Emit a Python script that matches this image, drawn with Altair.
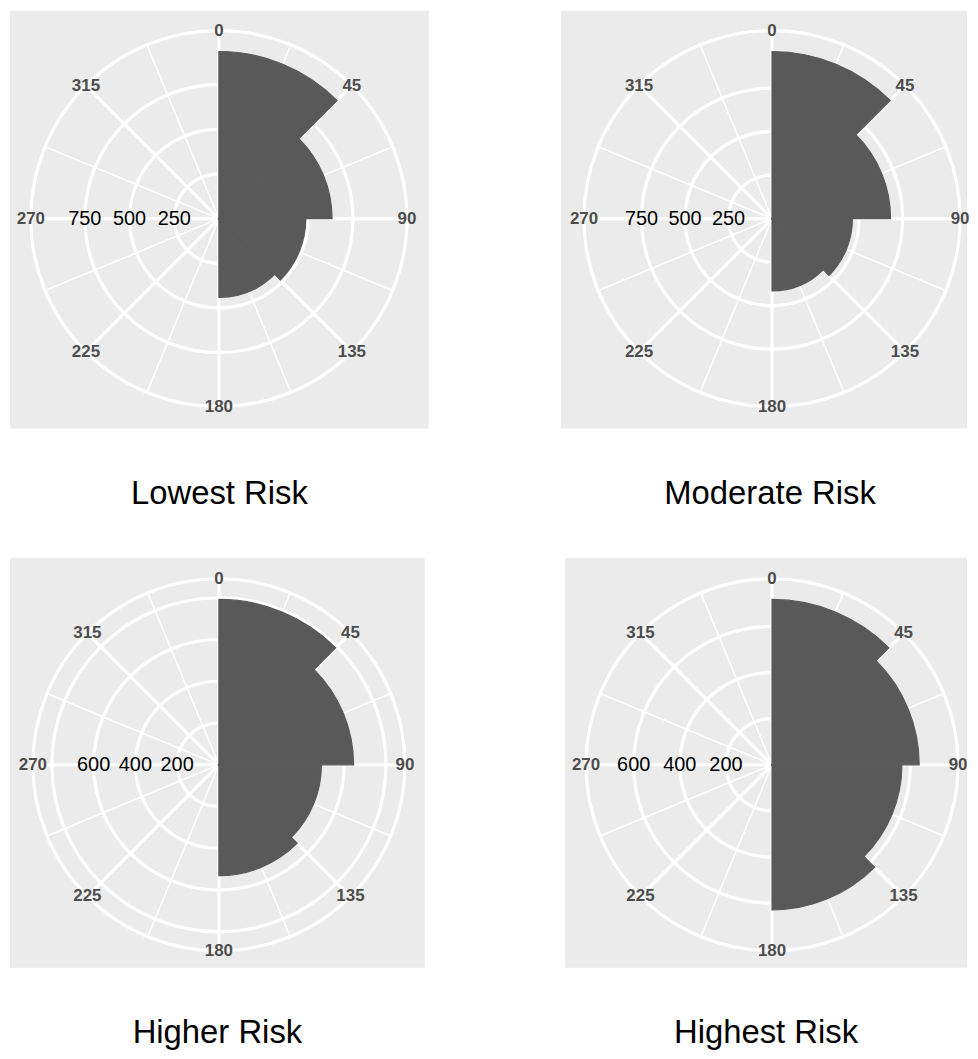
import math
import altair as alt
import pandas as pd

# ---- data ----
titles = ["Lowest Risk", "Moderate Risk", "Higher Risk", "Highest Risk"]
bin_start = [0, 45, 90, 135]
bin_end = [45, 90, 135, 180]
lowest_vals = [935, 633, 486, 441]
moderate_vals = [960, 681, 462, 415]
higher_vals = [792, 645, 491, 531]
highest_vals = [717, 638, 563, 629]

rings_lowest = [250, 500, 750]
rings_moderate = [250, 500, 750]
rings_higher = [200, 400, 600, 800]
rings_highest = [200, 400, 600]

rlabels_lowest = [250, 500, 750]
rlabels_moderate = [250, 500, 750]
rlabels_higher = [200, 400, 600]
rlabels_highest = [200, 400, 600]

theta_major = [0, 45, 90, 135, 180, 225, 270, 315]
theta_minor = [22.5, 67.5, 112.5, 157.5, 202.5, 247.5, 292.5, 337.5]
theta_labels = ["0", "45", "90", "135", "180", "225", "270", "315"]

BG = "#EBEBEB"
BAR = "#595959"
FONT = "Liberation Sans"


def panel(title, values, rings, rlabels, w, h, cx, cy, R, title_dx, title_offset):
    D = max(values) * 0.45 / 0.4  # outer circle sits at 0.45 when data max is at 0.4
    th = alt.Scale(type="linear", domain=[0, 360], range=[0, 2 * math.pi])
    rs = alt.Scale(type="linear", domain=[0, D], range=[0, R], zero=True, nice=False)
    center = dict(x=alt.value(cx), y=alt.value(cy))

    major_df = pd.DataFrame({"a": theta_major, "r": [D] * len(theta_major), "r0": [0] * len(theta_major)})
    minor_df = pd.DataFrame({"a": theta_minor, "r": [D] * len(theta_minor), "r0": [0] * len(theta_minor)})
    ring_vals = list(rings) + [D]
    ring_df = pd.DataFrame({"r": ring_vals, "t0": [0] * len(ring_vals), "t1": [360] * len(ring_vals)})
    bar_df = pd.DataFrame({"start": bin_start, "end": bin_end, "value": values})
    tl_df = pd.DataFrame({"a": theta_major, "r": [D] * len(theta_major), "lab": theta_labels})
    rl_df = pd.DataFrame({"a": [270] * len(rlabels), "r": rlabels, "lab": [str(v) for v in rlabels]})

    def spokes(df, sw):
        return alt.Chart(df).mark_arc(stroke="white", strokeWidth=sw, fillOpacity=0).encode(
            theta=alt.Theta("a:Q", scale=th, stack=False),
            theta2=alt.Theta2("a"),
            radius=alt.Radius("r:Q", scale=rs),
            radius2=alt.Radius2("r0"),
            **center,
        )

    minor = spokes(minor_df, 1.6)
    major = spokes(major_df, 3.2)
    ring = alt.Chart(ring_df).mark_arc(stroke="white", strokeWidth=3.2, fillOpacity=0).encode(
        theta=alt.Theta("t0:Q", scale=th, stack=False),
        theta2=alt.Theta2("t1"),
        radius=alt.Radius("r:Q", scale=rs),
        **center,
    )
    bars = alt.Chart(bar_df).mark_arc(fill=BAR, stroke=BAR, strokeWidth=1.2).encode(
        theta=alt.Theta("start:Q", scale=th, stack=False),
        theta2=alt.Theta2("end"),
        radius=alt.Radius("value:Q", scale=rs),
        **center,
    )
    tlab = alt.Chart(tl_df).mark_text(
        font=FONT, fontSize=17, fontWeight="bold", color="#4D4D4D", align="center", baseline="middle"
    ).encode(
        theta=alt.Theta("a:Q", scale=th, stack=False),
        radius=alt.Radius("r:Q", scale=rs),
        text="lab:N",
        **center,
    )
    rlab = alt.Chart(rl_df).mark_text(
        font=FONT, fontSize=20, color="black", align="center", baseline="middle"
    ).encode(
        theta=alt.Theta("a:Q", scale=th, stack=False),
        radius=alt.Radius("r:Q", scale=rs),
        text="lab:N",
        **center,
    )
    return alt.layer(minor, major, ring, bars, tlab, rlab).properties(
        width=w,
        height=h,
        title=alt.TitleParams(
            text=title, orient="bottom", anchor="middle", font=FONT, fontSize=33,
            fontWeight="normal", color="black", offset=title_offset, dx=title_dx,
        ),
    )


p1 = panel(titles[0], lowest_vals, rings_lowest, rlabels_lowest, 421, 420, 210, 209, 189, 0, 50)
p2 = panel(titles[1], moderate_vals, rings_moderate, rlabels_moderate, 408, 420, 212, 209, 189, 6, 50)
p3 = panel(titles[2], higher_vals, rings_higher, rlabels_higher, 417, 412, 210, 208, 187, 0, 50)
p4 = panel(titles[3], highest_vals, rings_highest, rlabels_highest, 404, 412, 208, 208, 187, 0, 50)

row1 = alt.hconcat(p1, p2, spacing=133)
row2 = alt.hconcat(p3, p4, spacing=141)

chart = alt.vconcat(row1, row2, spacing=47).properties(
    padding={"left": 2, "top": 0, "right": 0, "bottom": 0}
).configure_view(fill=BG, strokeWidth=0).configure_concat(spacing=0)

chart.save("out.html", embed_options={"renderer": "svg", "actions": False})
